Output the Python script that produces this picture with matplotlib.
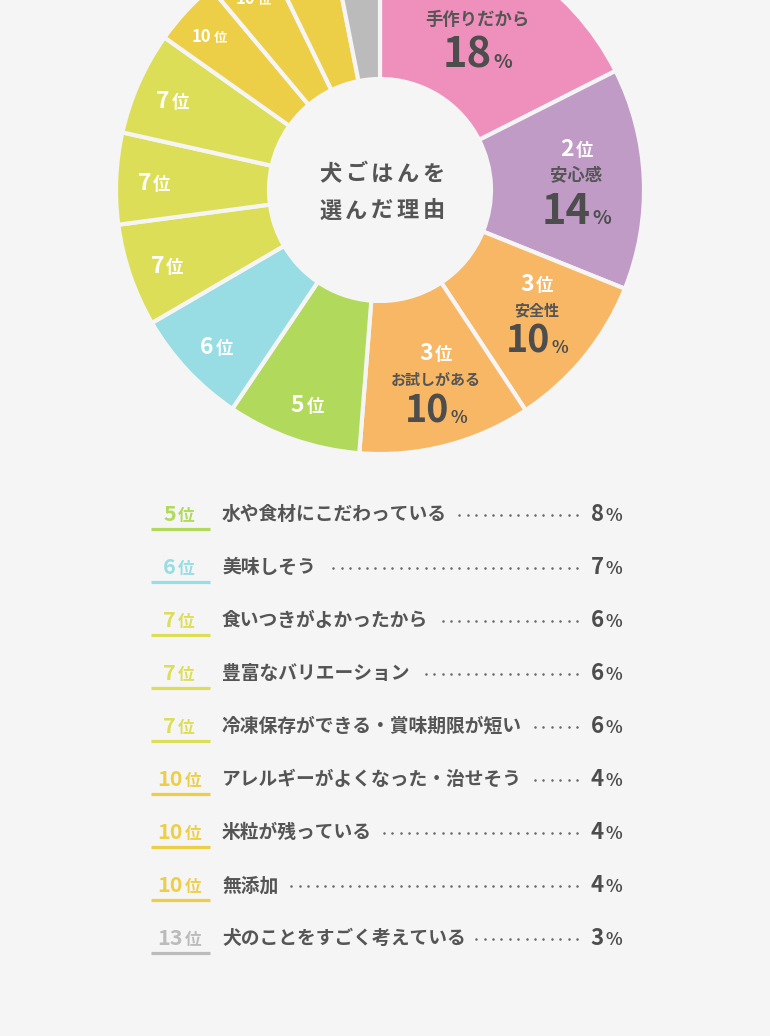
import matplotlib
matplotlib.use("Agg")
import matplotlib.pyplot as plt
import numpy as np

plt.rcParams['font.family'] = ['Noto Sans CJK JP', 'DejaVu Sans']

# Data (clockwise from 12 o'clock)
ranks = [1, 2, 3, 3, 5, 6, 7, 7, 7, 10, 10, 10, 13]
reasons = ["手作りだから", "安心感", "安全性", "お試しがある",
           "水や食材にこだわっている", "美味しそう", "食いつきがよかったから",
           "豊富なバリエーション", "冷凍保存ができる・賞味期限が短い",
           "アレルギーがよくなった・治せそう", "米粒が残っている", "無添加",
           "犬のことをすごく考えている"]
percents = [18, 14, 10, 10, 8, 7, 6, 6, 6, 4, 4, 4, 3]
# arc sizes as measured on the drawing (labels are rounded)
shares = [17.55, 13.55, 9.6, 10.55, 8.2, 7.15, 6.3, 5.6, 6.3, 4.1, 3.9, 4.1, 3.1]
slice_colors = ['#EF90BC', '#BF9BC6', '#F7B764', '#F7B764', '#B1D95B', '#98DCE4',
                '#DDDE58', '#DDDE58', '#DDDE58', '#EDCF47', '#EDCF47', '#EDCF47',
                '#BBBBBB']
title = "犬ごはんを\n選んだ理由"

BG = '#F5F5F5'
DARK = '#555555'
NUM = '#4D4D4D'
W, H = 770, 1036

fig = plt.figure(figsize=(W / 100, H / 100), dpi=100, facecolor=BG)
ax = fig.add_axes([0, 0, 1, 1])
renderer = fig.canvas.get_renderer()


def py(y):
    # pixel row from the top -> data y
    return H - y


def px(pt):
    return pt * 100 / 72


def pair(x, yc, a, b, sa, sb, color, gap=2, mode='center'):
    # big number + small suffix on one baseline, yc = visual centre of the digits
    base = yc + 0.365 * px(sa)
    if base < 1:
        return  # falls completely above the picture
    t1 = ax.text(0, py(base), a, fontsize=sa, color=color, fontweight='bold', va='baseline')
    t2 = ax.text(0, py(base), b, fontsize=sb, color=color, fontweight='bold', va='baseline')
    w1 = t1.get_window_extent(renderer).width
    w2 = t2.get_window_extent(renderer).width
    x0 = x - (w1 + gap + w2) / 2 if mode == 'center' else x - w1
    t1.set_x(x0)
    t2.set_x(x0 + w1 + gap)


# Donut
cx, cy = 380, 190
R, R_in = 262, 113
ax.pie(shares, colors=slice_colors, startangle=90, counterclock=False,
       center=(cx, py(cy)), radius=R + 2, frame=False,
       wedgeprops=dict(width=R - R_in + 4, edgecolor=BG, linewidth=3))
ax.set_xlim(0, W)
ax.set_ylim(0, H)
ax.set_aspect('equal')
ax.axis('off')

# centre title, drawn char by char for the letter spacing
for j, line in enumerate(title.split('\n')):
    yc = 172 + j * 37
    for k, ch in enumerate(line):
        ax.text(cx + 2 + (k - (len(line) - 1) / 2) * 25.8, py(yc + 0.38 * px(16)), ch,
                fontsize=16, color=DARK, fontweight='bold', ha='center', va='baseline')

# labels inside the ring
cum = np.cumsum([0] + shares[:-1])
for i, (rk, name, p) in enumerate(zip(ranks, reasons, percents)):
    mid = (cum[i] + shares[i] / 2) / 100 * 360
    if p >= 10:
        ang = np.radians(mid - 2)
        x = cx + 197 * np.sin(ang)
        y = cy - 197 * np.cos(ang)
        big = p > 10
        name_pt = 12.5 if big else 10.8
        pair(x, y - 27, str(rk), '位', 16.5, 12.5, 'white', gap=2)
        ax.text(x, py(y + 0.38 * px(name_pt)), name, fontsize=name_pt, color=DARK,
                fontweight='bold', ha='center', va='baseline')
        if big:
            pair(x, y + 34, str(p), '%', 30, 14, NUM, gap=1)
        else:
            pair(x, y + 30, str(p), '%', 27, 12.5, NUM, gap=1)
    else:
        ang = np.radians(mid - 0.5)
        rr = 226 if rk < 10 else 230
        x = cx + rr * np.sin(ang)
        y = cy - rr * np.cos(ang)
        s1, s2 = (16.5, 12.5) if rk < 10 else (12, 9.5)
        pair(x, y, str(rk), '位', s1, s2, 'white', gap=2)

# ranking list below the chart
for k, i in enumerate(range(4, len(ranks))):
    yc = 513 + k * 53
    col = slice_colors[i]
    pair(179, yc, str(ranks[i]), '位', 15.5, 12, col, gap=2)
    ax.plot([151, 210], [py(yc + 15.5)] * 2, color=col, lw=2.3, solid_capstyle='butt')
    t = ax.text(222, py(yc + 0.38 * px(13.5)), reasons[i], fontsize=13.5, color=DARK,
                fontweight='bold', va='baseline')
    end = t.get_window_extent(renderer).x1
    dots = np.arange(577, end + 10, -8.4)
    ax.plot(dots, np.full_like(dots, py(yc + 2)), ls='none', marker='o', ms=1.8,
            mec='none', color='#666666')
    pair(604, yc, str(percents[i]), '%', 16, 12.5, NUM, gap=2, mode='split')

fig.savefig("out.png", dpi=100, facecolor=BG)
